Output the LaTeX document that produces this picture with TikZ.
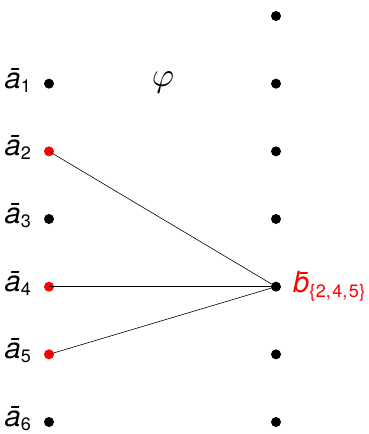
\documentclass[tikz,border=0pt]{standalone}
\usepackage{fontspec}
\setmainfont{TeX Gyre Heros}
\newcommand{\abar}[1]{{\itshape\=a}{\upshape\fontsize{18}{18}\selectfont\raisebox{-4pt}{#1}}}
\begin{document}
\begin{tikzpicture}[x=1pt,y=1pt,
  dot/.style={circle,fill=black,minimum size=10pt,inner sep=0pt},
  rdot/.style={dot,fill=red},
  lab/.style={font=\fontsize{29}{30}\selectfont,inner sep=0pt},
  edge/.style={draw=black,line width=0.6pt}]
\useasboundingbox (0,0) rectangle (368,434);
\def\ry#1{434-16-67.67*#1}
% left column
\node[dot]  (a1) at (49,{\ry{1}}) {};
\node[rdot] (a2) at (49,{\ry{2}}) {};
\node[dot]  (a3) at (49,{\ry{3}}) {};
\node[rdot] (a4) at (49,{\ry{4}}) {};
\node[rdot] (a5) at (49,{\ry{5}}) {};
\node[dot]  (a6) at (49,{\ry{6}}) {};
% right column
\node[dot] (b0) at (276,{\ry{0}}) {};
\node[dot] (b1) at (276,{\ry{1}}) {};
\node[dot] (b2) at (276,{\ry{2}}) {};
\node[dot] (b3) at (276,{\ry{3}}) {};
\node[dot] (b4) at (276,{\ry{4}}) {};
\node[dot] (b5) at (276,{\ry{5}}) {};
\node[dot] (b6) at (276,{\ry{6}}) {};
% labels
\foreach \i in {1,...,6}{
  \node[lab,anchor=base east] (la\i) at ([xshift=-18pt,yshift=-4.5pt]a\i.center) {\abar{\i}};
}
\node[lab,anchor=base west,text=red] (lb) at ([xshift=17pt,yshift=-6pt]b4.center) {{\itshape\=b}{\upshape\fontsize{18}{18}\selectfont\raisebox{-5pt}{\{\kern0.5pt2,\kern1.5pt4,\kern1.5pt5\kern0.5pt\}}}};
\node[inner sep=0pt] (phi) at (163,{434-82.5}) {\scalebox{3.4}{$\varphi$}};
% edges
\draw[edge] (a2.center) -- (b4.center);
\draw[edge] (a4.center) -- (b4.center);
\draw[edge] (a5.center) -- (b4.center);
\end{tikzpicture}
\end{document}
